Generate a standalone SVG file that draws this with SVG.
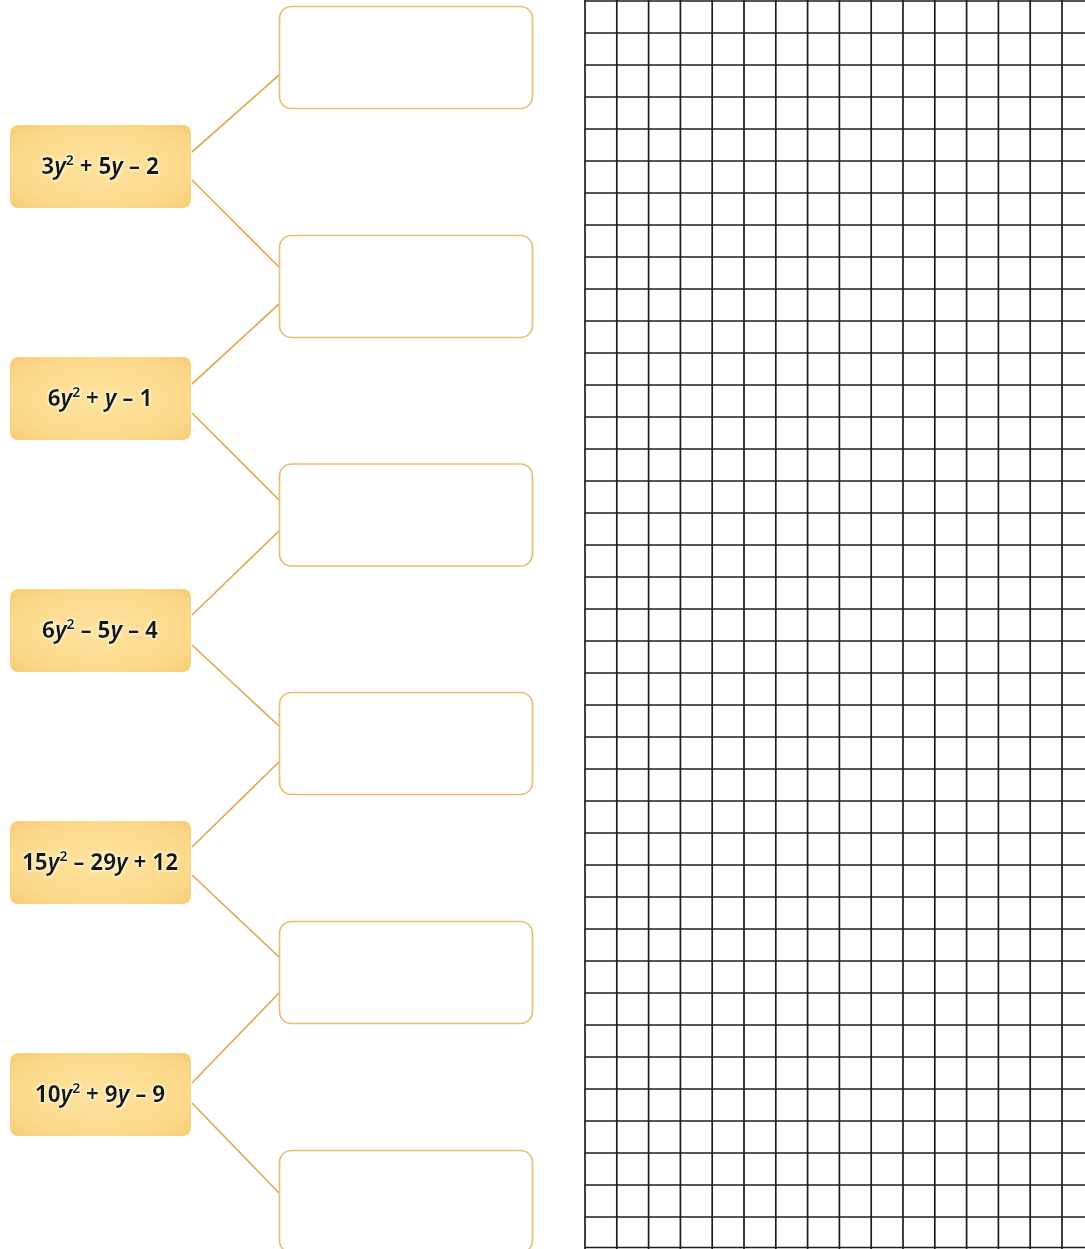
<svg xmlns="http://www.w3.org/2000/svg" width="1085" height="1249" viewBox="0 0 1085 1249">
<style>
.node rect{fill:url(#ng);}
.node text{font-family:"Open Sans","Liberation Sans",sans-serif;font-weight:bold;font-size:22.5px;fill:#141414;text-anchor:middle;filter:url(#glow);}
.v{font-style:italic;}
.box rect{fill:#fff;stroke:#e5bf73;stroke-width:1.7;}
#connectors line{stroke:#dcad55;stroke-width:1.7;}
#grid path{stroke:#1e1e1e;stroke-width:1.7;fill:none;}
</style>
<defs>
<radialGradient id="ng" cx="50%" cy="50%" r="70%">
<stop offset="0" stop-color="#fde39f"/>
<stop offset="0.7" stop-color="#fbd98b"/>
<stop offset="1" stop-color="#f6cd78"/>
</radialGradient>
<filter id="glow" x="-10%" y="-30%" width="120%" height="160%">
<feMorphology in="SourceAlpha" operator="dilate" radius="1.2" result="d"/>
<feGaussianBlur in="d" stdDeviation="1.2" result="b"/>
<feFlood flood-color="#fff8d8"/>
<feComposite in2="b" operator="in" result="g"/>
<feMerge><feMergeNode in="g"/><feMergeNode in="SourceGraphic"/></feMerge>
</filter>
</defs>
<rect width="1085" height="1249" fill="#fff"/>
<g id="grid">
<path d="M585,0V1249M616.8,0V1249M648.6,0V1249M680.4,0V1249M712.2,0V1249M744,0V1249M775.8,0V1249M807.6,0V1249M839.4,0V1249M871.2,0V1249M903,0V1249M934.8,0V1249M966.6,0V1249M998.4,0V1249M1030.2,0V1249M1062,0V1249"/>
<path d="M585,1H1085M585,33H1085M585,65H1085M585,97H1085M585,129H1085M585,161H1085M585,193H1085M585,225H1085M585,257H1085M585,289H1085M585,321H1085M585,353H1085M585,385H1085M585,417H1085M585,449H1085M585,481H1085M585,513H1085M585,545H1085M585,577H1085M585,609H1085M585,641H1085M585,673H1085M585,705H1085M585,737H1085M585,769H1085M585,801H1085M585,833H1085M585,865H1085M585,897H1085M585,929H1085M585,961H1085M585,993H1085M585,1025H1085M585,1057H1085M585,1089H1085M585,1121H1085M585,1153H1085M585,1185H1085M585,1217H1085M585,1247.5H1085"/>
</g>
<g id="connectors">
<line x1="192" y1="152" x2="279" y2="75"/>
<line x1="192" y1="180" x2="279" y2="267"/>
<line x1="192" y1="384" x2="279" y2="304"/>
<line x1="192" y1="413" x2="279" y2="500"/>
<line x1="192" y1="615" x2="279" y2="531"/>
<line x1="192" y1="645" x2="279" y2="726"/>
<line x1="192" y1="847" x2="279" y2="762"/>
<line x1="192" y1="875" x2="279" y2="957"/>
<line x1="192" y1="1083" x2="279" y2="993"/>
<line x1="192" y1="1103" x2="279" y2="1193"/>
</g>
<g id="box1" class="box"><rect x="279.5" y="6.5" width="253" height="102" rx="12"/></g>
<g id="box2" class="box"><rect x="279.5" y="235.5" width="253" height="102" rx="12"/></g>
<g id="box3" class="box"><rect x="279.5" y="464" width="253" height="102" rx="12"/></g>
<g id="box4" class="box"><rect x="279.5" y="692.5" width="253" height="102" rx="12"/></g>
<g id="box5" class="box"><rect x="279.5" y="921.5" width="253" height="102" rx="12"/></g>
<g id="box6" class="box"><rect x="279.5" y="1150.5" width="253" height="102" rx="12"/></g>
<g id="node1" class="node"><rect x="10" y="125" width="181" height="83" rx="8"/>
<text x="100" y="174">3<tspan class="v">y</tspan><tspan font-size="14" dy="-9">2</tspan><tspan dy="9"> + 5</tspan><tspan class="v">y</tspan> – 2</text></g>
<g id="node2" class="node"><rect x="10" y="357" width="181" height="83" rx="8"/>
<text x="100" y="406">6<tspan class="v">y</tspan><tspan font-size="14" dy="-9">2</tspan><tspan dy="9"> + </tspan><tspan class="v">y</tspan> – 1</text></g>
<g id="node3" class="node"><rect x="10" y="589" width="181" height="83" rx="8"/>
<text x="100" y="638">6<tspan class="v">y</tspan><tspan font-size="14" dy="-9">2</tspan><tspan dy="9"> – 5</tspan><tspan class="v">y</tspan> – 4</text></g>
<g id="node4" class="node"><rect x="10" y="821" width="181" height="83" rx="8"/>
<text x="100" y="870">15<tspan class="v">y</tspan><tspan font-size="14" dy="-9">2</tspan><tspan dy="9"> – 29</tspan><tspan class="v">y</tspan> + 12</text></g>
<g id="node5" class="node"><rect x="10" y="1053" width="181" height="83" rx="8"/>
<text x="100" y="1102">10<tspan class="v">y</tspan><tspan font-size="14" dy="-9">2</tspan><tspan dy="9"> + 9</tspan><tspan class="v">y</tspan> – 9</text></g>
</svg>
